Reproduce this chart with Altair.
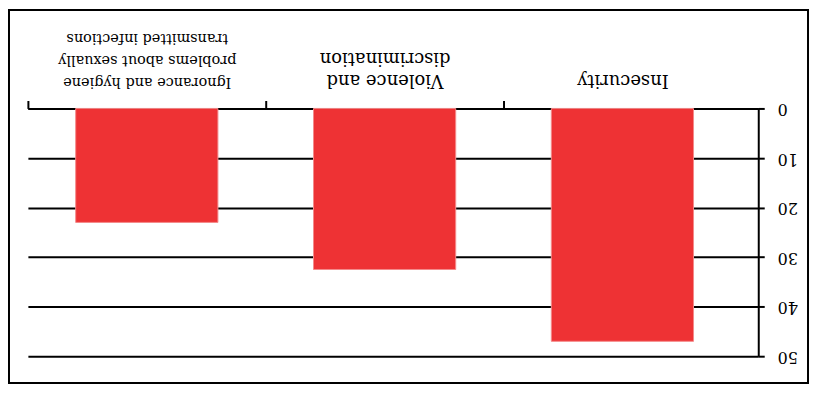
import altair as alt
import pandas as pd

categories = [
    "Ignorance and hygiene problems about sexually transmitted infections",
    "Violence and discrimination",
    "Insecurity",
]
label_lines = [
    ["Ignorance and hygiene", "problems about sexually", "transmitted infections"],
    ["Violence and", "discrimination"],
    ["Insecurity"],
]
values = [23, 32.5, 47]
y_ticks = [0, 10, 20, 30, 40, 50]

df = pd.DataFrame({"category": categories, "value": values})


def js(s):
    return "'" + s.replace("'", "\\'") + "'"


expr = "datum.value"
for cat, lines in reversed(list(zip(categories, label_lines))):
    expr = f"datum.value == {js(cat)} ? [{', '.join(js(l) for l in lines)}] : ({expr})"

bars = alt.Chart(df).mark_bar(
    color="#EE3234", stroke="#F48A8A", strokeWidth=1, width=alt.RelativeBandSize(0.598)
).encode(
    x=alt.X(
        "category:N",
        sort=categories,
        scale=alt.Scale(paddingInner=0, paddingOuter=0.0356, align=0),
        axis=alt.Axis(
            orient="top", title=None, labelExpr=expr, labelAngle=180,
            labelAlign="center", labelBaseline="top", labelFont="DejaVu Serif",
            labelFontSize={"condition": {"test": f"datum.value == {js(categories[0])}", "value": 14.5}, "value": 18},
            labelColor="black", labelLimit=400, labelPadding=12, labelLineHeight=22,
            tickBand="extent", tickColor="black", tickWidth=2, tickSize=8,
            tickOpacity={"condition": {"test": f"!datum.extra && datum.value == {js(categories[-1])}", "value": 0}, "value": 1},
            domainColor="black", domainWidth=2, labelOverlap=False, grid=False,
        ),
    ),
    y=alt.Y(
        "value:Q",
        scale=alt.Scale(domain=[0, 50], reverse=True, nice=False),
        axis=alt.Axis(
            orient="right", values=y_ticks, title=None, grid=True,
            gridColor="black", gridWidth=2, gridOpacity=1, labelAngle=180,
            labelAlign="right", labelBaseline="middle", labelFont="DejaVu Serif",
            labelFontSize=16, labelColor="black", labelPadding=13,
            tickColor="black", tickSize=6, tickWidth=2,
            domainColor="black", domainWidth=2,
        ),
    ),
)

border = alt.Chart(pd.DataFrame({"a": [0]})).mark_rect(
    fillOpacity=0, stroke="black", strokeWidth=2
).encode(x=alt.value(-19), x2=alt.value(784), y=alt.value(-99), y2=alt.value(276))

chart = alt.layer(bars, border).properties(
    width=734, height=249,
    autosize=alt.AutoSizeParams(type="none"),
    padding={"left": 20, "top": 100, "right": 52, "bottom": 28},
    background="white",
).configure_view(strokeWidth=0)

chart.save("out.html", embed_options={"renderer": "svg", "actions": False})
